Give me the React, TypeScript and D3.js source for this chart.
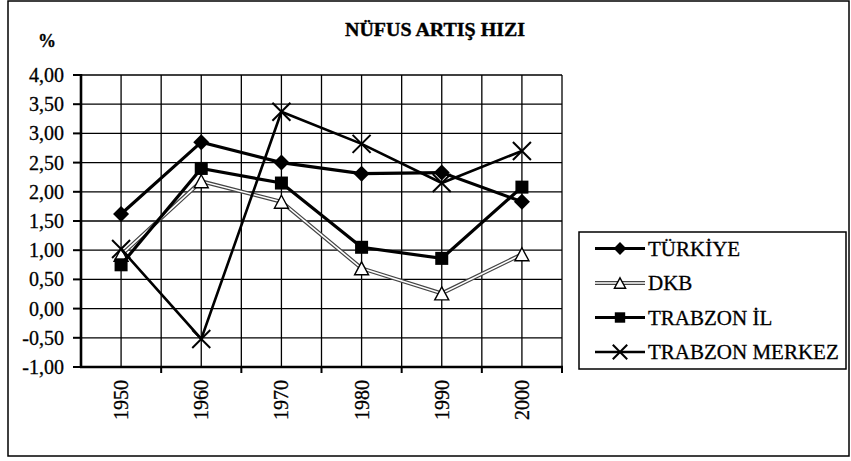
import React from "react";
import * as d3 from "d3";

const years = ["1950", "1960", "1970", "1980", "1990", "2000"];
const turkiye = [1.62, 2.85, 2.5, 2.31, 2.33, 1.83];
const dkb = [0.92, 2.18, 1.83, 0.69, 0.26, 0.93];
const trabzonIl = [0.75, 2.4, 2.15, 1.05, 0.86, 2.08];
const trabzonMerkez = [1.02, -0.52, 3.37, 2.82, 2.15, 2.7];
const yTicks = [-1, -0.5, 0, 0.5, 1, 1.5, 2, 2.5, 3, 3.5, 4];
const seriesNames = ["TÜRKİYE", "DKB", "TRABZON İL", "TRABZON MERKEZ"];
const seriesKinds = ["diamond", "triangle", "square", "cross"];
const seriesValues = [turkiye, dkb, trabzonIl, trabzonMerkez];

const FONT = "'Liberation Serif', 'Times New Roman', serif";

function Marker({ kind, x, y, scale = 1 }: { kind: string; x: number; y: number; scale?: number }) {
  if (kind === "diamond") {
    const s = 8 * scale;
    return <path d={`M${x},${y - s}L${x + s},${y}L${x},${y + s}L${x - s},${y}Z`} fill="#000" />;
  }
  if (kind === "square") {
    const s = 6.5 * scale;
    return <rect x={x - s} y={y - s} width={2 * s} height={2 * s} fill="#000" />;
  }
  if (kind === "triangle") {
    const w = 7 * scale, h = 6.5 * scale;
    return (
      <path
        d={`M${x},${y - h}L${x + w},${y + h}L${x - w},${y + h}Z`}
        fill="#fff"
        stroke="#000"
        strokeWidth={1.4}
      />
    );
  }
  const s = 9 * scale;
  return (
    <g stroke="#000" strokeWidth={2}>
      <line x1={x - s} y1={y - s} x2={x + s} y2={y + s} />
      <line x1={x - s} y1={y + s} x2={x + s} y2={y - s} />
    </g>
  );
}

function SeriesLine({ kind, d }: { kind: string; d: string }) {
  if (kind === "triangle") {
    return (
      <g fill="none">
        <path d={d} stroke="#444" strokeWidth={4} />
        <path d={d} stroke="#fff" strokeWidth={1.6} />
      </g>
    );
  }
  return <path d={d} fill="none" stroke="#000" strokeWidth={kind === "cross" ? 2.6 : 3.2} />;
}

export default function App() {
  const W = 851, H = 461;
  const left = 81, right = 562, top = 75, bottom = 367;
  const x = d3.scaleBand<string>().domain(years).range([left, right]);
  const y = d3.scaleLinear().domain([-1, 4]).range([bottom, top]);
  const bw = x.bandwidth();
  const cx = (c: string) => (x(c) as number) + bw / 2;

  const vGrid: number[] = [];
  years.forEach((c) => {
    vGrid.push(x(c) as number);
    vGrid.push(cx(c));
  });
  vGrid.push(right);

  const line = d3
    .line<number>()
    .x((_, i) => cx(years[i]))
    .y((v) => y(v));

  const legX = 579, legY = 232, legW = 267, legH = 137;
  const legRows = seriesNames.map((_, i) => legY + 16.5 + i * 34.5);

  return (
    <svg
      width={W}
      height={H}
      style={{ position: "absolute", left: 0, top: 0, background: "#fff" }}
      fontFamily={FONT}
    >
      <rect x={8} y={1} width={841} height={455} fill="#fff" stroke="#000" strokeWidth={1.5} />
      <text
        x={435}
        y={36}
        textAnchor="middle"
        fontWeight="bold"
        fontSize={19}
        textLength={180}
        lengthAdjust="spacingAndGlyphs"
        stroke="#000"
        strokeWidth={0.4}
      >
        NÜFUS ARTIŞ HIZI
      </text>
      <text x={38} y={47} fontWeight="bold" fontSize={18} stroke="#000" strokeWidth={0.3}>
        %
      </text>

      {/* grid */}
      <g stroke="#000" strokeWidth={1.3}>
        {yTicks.map((t) => (
          <line key={"h" + t} x1={left} x2={right} y1={y(t)} y2={y(t)} />
        ))}
        {vGrid.map((g, i) => (
          <line key={"v" + i} x1={g} x2={g} y1={top} y2={bottom} />
        ))}
      </g>

      {/* axes */}
      <line x1={left} x2={left} y1={top - 1} y2={bottom + 1} stroke="#000" strokeWidth={2.6} />
      <line x1={left - 1} x2={right + 1} y1={bottom} y2={bottom} stroke="#000" strokeWidth={2.6} />
      <g stroke="#000" strokeWidth={2}>
        {yTicks.map((t) => (
          <line key={"yt" + t} x1={left - 8} x2={left} y1={y(t)} y2={y(t)} />
        ))}
        {years.map((c) => (
          <line key={"xt" + c} x1={(x(c) as number) + bw} x2={(x(c) as number) + bw} y1={bottom} y2={bottom + 6} />
        ))}
      </g>
      <g fontSize={20} textAnchor="end" stroke="#000" strokeWidth={0.3}>
        {yTicks.map((t) => (
          <text key={"yl" + t} x={64} y={y(t) + 7}>
            {d3.format(".2f")(t).replace(".", ",").replace("−", "-")}
          </text>
        ))}
      </g>
      <g fontSize={20} textAnchor="end" stroke="#000" strokeWidth={0.3}>
        {years.map((c) => (
          <text key={"xl" + c} transform={`translate(${cx(c) + 7},${380}) rotate(-90)`}>
            {c}
          </text>
        ))}
      </g>

      {/* series */}
      {seriesValues.map((vals, si) => (
        <g key={"s" + si}>
          <SeriesLine kind={seriesKinds[si]} d={line(vals) as string} />
          {vals.map((v, i) => (
            <Marker key={i} kind={seriesKinds[si]} x={cx(years[i])} y={y(v)} />
          ))}
        </g>
      ))}

      {/* legend */}
      <rect x={legX} y={legY} width={legW} height={legH} fill="#fff" stroke="#000" strokeWidth={1.5} />
      {seriesNames.map((n, i) => {
        const ry = legRows[i];
        const p = `M595,${ry}L645,${ry}`;
        return (
          <g key={"l" + i}>
            <SeriesLine kind={seriesKinds[i]} d={p} />
            <Marker kind={seriesKinds[i]} x={620} y={ry} scale={0.8} />
            <text x={648} y={ry + 7} fontSize={21} stroke="#000" strokeWidth={0.3}>
              {n}
            </text>
          </g>
        );
      })}
    </svg>
  );
}
